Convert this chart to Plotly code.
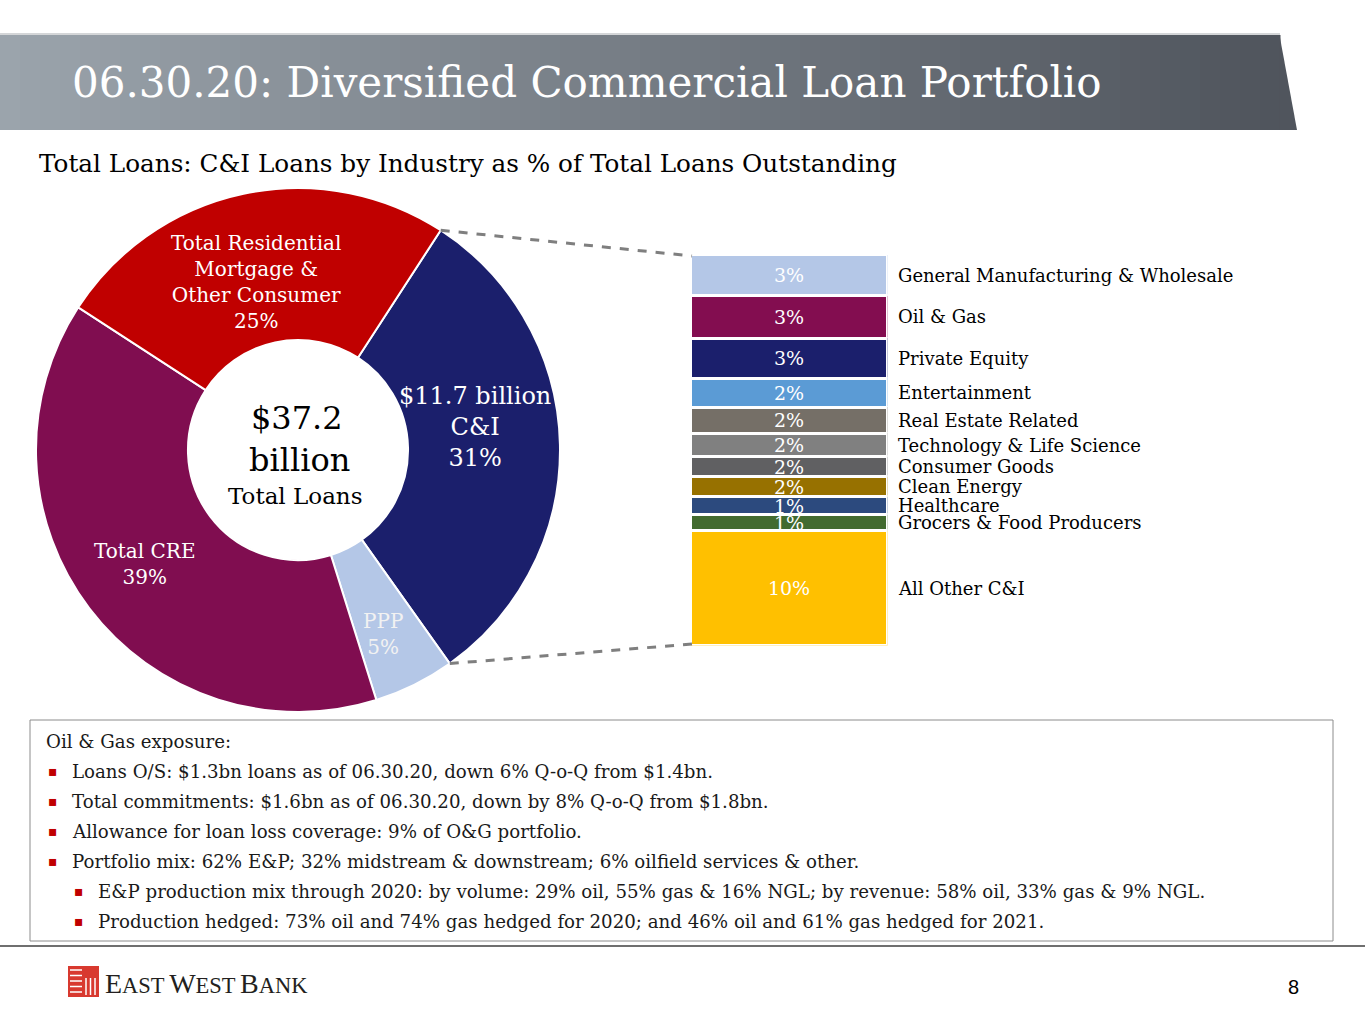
import numpy as np
import plotly.graph_objects as go

W, H = 1365, 1024
SERIF = "DejaVu Serif"

# donut: share of total loans
donut_labels = ["C&I", "PPP", "Total CRE", "Total Residential Mortgage & Other Consumer"]
donut_values = [31, 5, 39, 25]
donut_colors = ["#1b1f6c", "#b4c7e7", "#800d50", "#c00000"]

# C&I breakdown (estimated share of total loans, top to bottom)
ci_industries = ["General Manufacturing & Wholesale", "Oil & Gas", "Private Equity", "Entertainment",
                 "Real Estate Related", "Technology & Life Science", "Consumer Goods", "Clean Energy",
                 "Healthcare", "Grocers & Food Producers", "All Other C&I"]
ci_share = [3.25, 3.37, 3.17, 2.32, 2.07, 1.85, 1.59, 1.59, 1.40, 1.28, 9.10]
ci_text = ["3%", "3%", "3%", "2%", "2%", "2%", "2%", "2%", "1%", "1%", "10%"]
ci_colors = ["#b4c7e7", "#830d50", "#1b1f6c", "#5b9bd5", "#756f67", "#808080", "#606062",
             "#977100", "#2c4a7e", "#426b2f", "#ffc000"]

bullets = [
    (0, "Oil & Gas exposure:"),
    (1, "Loans O/S: $1.3bn loans as of 06.30.20, down 6% Q-o-Q from $1.4bn."),
    (1, "Total commitments: $1.6bn as of 06.30.20, down by 8% Q-o-Q from $1.8bn."),
    (1, "Allowance for loan loss coverage: 9% of O&G portfolio."),
    (1, "Portfolio mix: 62% E&P; 32% midstream & downstream; 6% oilfield services & other."),
    (2, "E&P production mix through 2020: by volume: 29% oil, 55% gas & 16% NGL; by revenue: 58% oil, 33% gas & 9% NGL."),
    (2, "Production hedged: 73% oil and 74% gas hedged for 2020; and 46% oil and 61% gas hedged for 2021."),
]


def px(x):
    return x / W


def py(y):
    return 1 - y / H


fig = go.Figure()

# donut geometry (pixels)
cx, cy, R = 298, 450, 262
rot = 33
fig.add_trace(go.Pie(labels=donut_labels, values=donut_values, hole=0.42, sort=False,
                     direction="clockwise", rotation=rot, textinfo="none", hoverinfo="label+percent",
                     marker=dict(colors=donut_colors, line=dict(color="white", width=2)),
                     domain=dict(x=[px(cx - R), px(cx + R)], y=[py(cy + R), py(cy - R)]),
                     showlegend=False))

# stacked bar for C&I
bx0, bx1, by0, by1 = 692, 886, 256, 644
for name, v, t, c in zip(ci_industries, ci_share, ci_text, ci_colors):
    fig.add_trace(go.Bar(x=[0], y=[v], name=name, text=[t], textposition="inside",
                         insidetextanchor="middle", constraintext="none", textangle=0,
                         textfont=dict(color="white", size=19, family=SERIF),
                         marker=dict(color=c, line=dict(color="white", width=3)),
                         width=1, showlegend=False))

total = sum(ci_share)
fig.update_layout(
    barmode="stack", width=W, height=H, margin=dict(l=0, r=0, t=0, b=0),
    paper_bgcolor="white", plot_bgcolor="rgba(0,0,0,0)",
    xaxis=dict(domain=[px(bx0 - 1.5), px(bx1 + 1.5)], range=[-0.5, 0.5], visible=False, fixedrange=True),
    yaxis=dict(domain=[py(by1 + 1.5), py(by0 - 1.5)], range=[total, 0], visible=False, fixedrange=True),
)

ann = []
# industry labels at segment centres
cum = np.cumsum(ci_share) - np.array(ci_share) / 2
for name, yc in zip(ci_industries, cum):
    ann.append(dict(x=0.5, y=yc, xref="x", yref="y", text=name, showarrow=False, xanchor="left",
                    xshift=8, font=dict(size=18, color="black", family=SERIF)))

shapes = []
# header banner with gradient
c0 = np.array([0x9b, 0xa4, 0xac])
c1 = np.array([0x50, 0x55, 0x5d])
n = 64
for i in range(n):
    f = i / (n - 1)
    col = "rgb(%d,%d,%d)" % tuple((c0 + (c1 - c0) * f).astype(int))
    shapes.append(dict(type="rect", xref="paper", yref="paper", x0=px(i * 1280 / n), x1=px((i + 1) * 1280 / n + 0.5),
                       y0=py(130), y1=py(35), fillcolor=col, line=dict(width=0), layer="below"))
shapes.append(dict(type="path", xref="paper", yref="paper",
                   path="M %f %f L %f %f L %f %f Z" % (px(1279.5), py(35), px(1297), py(130), px(1279.5), py(130)),
                   fillcolor="#50555d", line=dict(width=0), layer="below"))
shapes.append(dict(type="line", xref="paper", yref="paper", x0=0, x1=px(1280), y0=py(34), y1=py(34),
                   line=dict(color="#d4d6d8", width=2)))

ann.append(dict(x=px(70), y=py(82), xref="paper", yref="paper", xanchor="left", yanchor="middle", showarrow=False,
                text="06.30.20: Diversified Commercial Loan Portfolio", font=dict(size=42, color="white", family=SERIF)))
ann.append(dict(x=px(37), y=py(163), xref="paper", yref="paper", xanchor="left", yanchor="middle", showarrow=False,
                text="Total Loans: C&I Loans by Industry as % of Total Loans Outstanding",
                font=dict(size=24.7, color="black", family=SERIF)))

# connector lines from C&I slice edges to the bar
a0 = np.radians(rot)
a1 = np.radians(rot + 360 * donut_values[0] / sum(donut_values))
for a, yb in [(a0, by0), (a1, by1)]:
    shapes.append(dict(type="line", xref="paper", yref="paper",
                       x0=px(cx + R * np.sin(a)), y0=py(cy - R * np.cos(a)), x1=px(bx0), y1=py(yb),
                       line=dict(color="#7f7f7f", width=3, dash="dash")))


# donut labels
def lab(x, y, text, size, color="white"):
    ann.append(dict(x=px(x), y=py(y), xref="paper", yref="paper", text=text, showarrow=False,
                    xanchor="center", yanchor="middle", align="center",
                    font=dict(size=size, color=color, family=SERIF)))


lab(256, 282, "Total Residential<br>Mortgage &<br>Other Consumer<br>25%", 20)
lab(475, 427, "$11.7 billion<br>C&I<br>31%", 24)
lab(145, 564, "Total CRE<br>39%", 20)
lab(383, 634, "PPP<br>5%", 20, "#f2f2f2")
lab(297, 418, "$37.2", 32, "black")
lab(299, 460, "billion", 32, "black")
lab(295, 496, "Total Loans", 23, "black")

# text box
shapes.append(dict(type="rect", xref="paper", yref="paper", x0=px(30), x1=px(1333), y0=py(941), y1=py(720),
                   line=dict(color="#8c8c8c", width=1)))
for i, (lvl, t) in enumerate(bullets):
    yy = 741 + 30 * i
    tx = {0: 44, 1: 70, 2: 96}[lvl]
    if lvl > 0:
        ann.append(dict(x=px(tx - 24), y=py(yy), xref="paper", yref="paper", text="▪", showarrow=False,
                        xanchor="left", yanchor="middle", font=dict(size=14, color="#c00000", family=SERIF)))
    ann.append(dict(x=px(tx), y=py(yy), xref="paper", yref="paper", text=t, showarrow=False,
                    xanchor="left", yanchor="middle", font=dict(size=18.2, color="#1a1a1a", family=SERIF)))

# footer
shapes.append(dict(type="line", xref="paper", yref="paper", x0=0, x1=1, y0=py(946), y1=py(946),
                   line=dict(color="#6f6f6f", width=2)))
shapes.append(dict(type="rect", xref="paper", yref="paper", x0=px(68), x1=px(99), y0=py(997), y1=py(966),
                   fillcolor="#d8392f", line=dict(width=0)))
for k in range(5):
    yy = 970 + k * 5.5
    shapes.append(dict(type="line", xref="paper", yref="paper", x0=px(70), x1=px(82), y0=py(yy), y1=py(yy),
                       line=dict(color="white", width=1.5)))
for k in range(3):
    xx = 86 + k * 4.5
    shapes.append(dict(type="line", xref="paper", yref="paper", x0=px(xx), x1=px(xx), y0=py(978), y1=py(995),
                       line=dict(color="white", width=1.5)))
small = "<span style='font-size:22.5px'>%s</span>"
ann.append(dict(x=px(103), y=py(983), xref="paper", yref="paper", xanchor="left", yanchor="middle", showarrow=False,
                text="E" + small % "AST\u2009" + "W" + small % "EST\u2009" + "B" + small % "ANK",
                font=dict(size=28, color="#231f20", family="Liberation Serif")))
ann.append(dict(x=px(1293), y=py(987), xref="paper", yref="paper", xanchor="center", yanchor="middle", showarrow=False,
                text="8", font=dict(size=20, color="black", family="Liberation Sans")))

fig.update_layout(annotations=ann, shapes=shapes)
fig.write_html("out.html", config={"displayModeBar": False},
               post_script="document.body.style.margin='0px';")
